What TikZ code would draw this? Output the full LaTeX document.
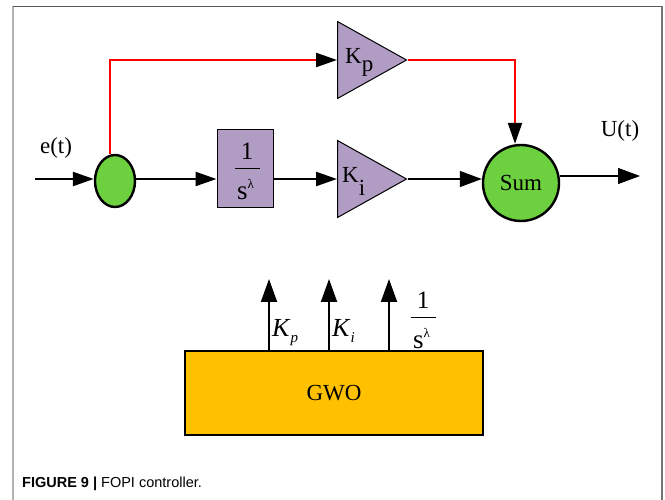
\documentclass[tikz,border=0pt]{standalone}
\usepackage{fontspec}
\setmainfont{Liberation Serif}
\newfontfamily\capfont{Liberation Sans}
\usetikzlibrary{arrows.meta,shapes.geometric}
\definecolor{fgreen}{HTML}{6CD03F}
\definecolor{fpurple}{HTML}{B19CC4}
\definecolor{forange}{HTML}{FFC000}
\definecolor{fred}{HTML}{FF0000}
% stacked fraction 1 / s^lambda with fixed spacing
\newcommand{\fracS}{{\fontsize{25}{25}\selectfont\renewcommand{\arraystretch}{0}%
\begin{tabular}{@{}c@{}}
\rule{0pt}{17pt}1\\
\rule{0pt}{9.5pt}\rule{25pt}{1pt}\\
\rule{0pt}{30.5pt}{\fontsize{27}{27}\selectfont s}\raisebox{11pt}{\fontsize{13}{13}\selectfont λ}\hspace{3pt}
\end{tabular}}}
\begin{document}
\begin{tikzpicture}[x=1pt,y=-1pt,
  every node/.style={font=\fontsize{23}{27}\selectfont},
  splitnode/.style={ellipse,draw,line width=2.4pt,fill=fgreen,minimum width=40pt,minimum height=52pt,inner sep=0pt},
  fracbox/.style={rectangle,draw,line width=1pt,fill=fpurple,minimum width=56pt,minimum height=78pt,inner sep=0pt},
  tri/.style={isosceles triangle,isosceles triangle stretches,draw,line width=1pt,fill=fpurple,minimum width=77pt,minimum height=69pt,inner sep=0pt},
  sumnode/.style={circle,draw,line width=2.4pt,fill=fgreen,minimum size=76pt,inner sep=0pt},
  gwobox/.style={rectangle,draw,line width=2.4pt,fill=forange,minimum width=298pt,minimum height=84pt,inner sep=0pt},
  conn/.style={line width=2.3pt,-{Triangle[length=21pt,width=14pt]}},
  thinconn/.style={line width=1.3pt,-{Triangle[length=22pt,width=16pt]}},
  redconn/.style={line width=2.3pt,draw=fred,-{Triangle[length=21pt,width=14pt,color=black]}},
  upconn/.style={line width=2pt,-{Triangle[length=23pt,width=16pt]}},
  frameline/.style={line width=1.5pt}
]
\useasboundingbox (0,0) rectangle (665,500);
% frame
\draw[frameline,draw=black!30] (13,500) -- (13,6.5);
\draw[frameline,draw=black!65] (13,6.5) -- (662,6.5);
\draw[frameline,draw=black!55] (662,6.5) -- (662,500);

% upper diagram
\node[splitnode] (split) at (115,181) {};
\node[fracbox] (frac) at (245,169) {};
\node[inner sep=0pt] (fractext) at (247,171.5) {\fracS};
\node[tri,anchor=lower side] (kp) at (337,60) {};
\node[tri,anchor=lower side] (ki) at (337,179) {};
\node[sumnode] (sum) at (521,183) {Sum};
\node[anchor=base west,inner sep=0pt] (kplab) at (345,64) {K\raisebox{-8pt}{p}};
\node[anchor=base west,inner sep=0pt] (kilab) at (342,183) {K\raisebox{-13pt}{i}};
\node[inner sep=0pt] (elab) at (56,148) {e(t)};
\node[inner sep=0pt] (ulab) at (620,131) {U(t)};
\coordinate (in) at (35,179);
\coordinate (out) at (640,176);
\coordinate (rx) at (110,0);
\coordinate (rv) at (515,0);

\draw[conn] (in) -- (in -| split.west);
\draw[conn] (split.east |- in) -- (in -| frac.west);
\draw[conn] (frac.east |- in) -- (ki.lower side);
\draw[thinconn] (ki.apex) -- (ki.apex -| sum.west);
\draw[thinconn] (sum.east |- out) -- (out);
\draw[redconn] (split.north -| rx) |- (kp.lower side);
\draw[redconn] (kp.apex) -| (rv |- sum.north);

% lower diagram
\node[gwobox] (gwo) at (334,393) {GWO};
\coordinate (a1) at (269,279);
\coordinate (a2) at (329,279);
\coordinate (a3) at (389,279);
\draw[upconn] (a1 |- gwo.north) -- (a1);
\draw[upconn] (a2 |- gwo.north) -- (a2);
\draw[upconn] (a3 |- gwo.north) -- (a3);
\node[anchor=base west,inner sep=0pt,font=\fontsize{26}{30}\selectfont] (bkp) at (272,336) {\textit{K}\raisebox{-6pt}{\fontsize{15}{15}\selectfont\textit{p}}};
\node[anchor=base west,inner sep=0pt,font=\fontsize{26}{30}\selectfont] (bki) at (332,336) {\textit{K}\raisebox{-6pt}{\fontsize{15}{15}\selectfont\textit{i}}};
\node[inner sep=0pt] (bfrac) at (423,320.5) {\fracS};

% caption
\node[anchor=base west,inner sep=0pt,font=\capfont\fontsize{14.5}{18}\selectfont] (cap) at (22,487) {\textbf{FIGURE 9 |} FOPI controller.};
\end{tikzpicture}
\end{document}
